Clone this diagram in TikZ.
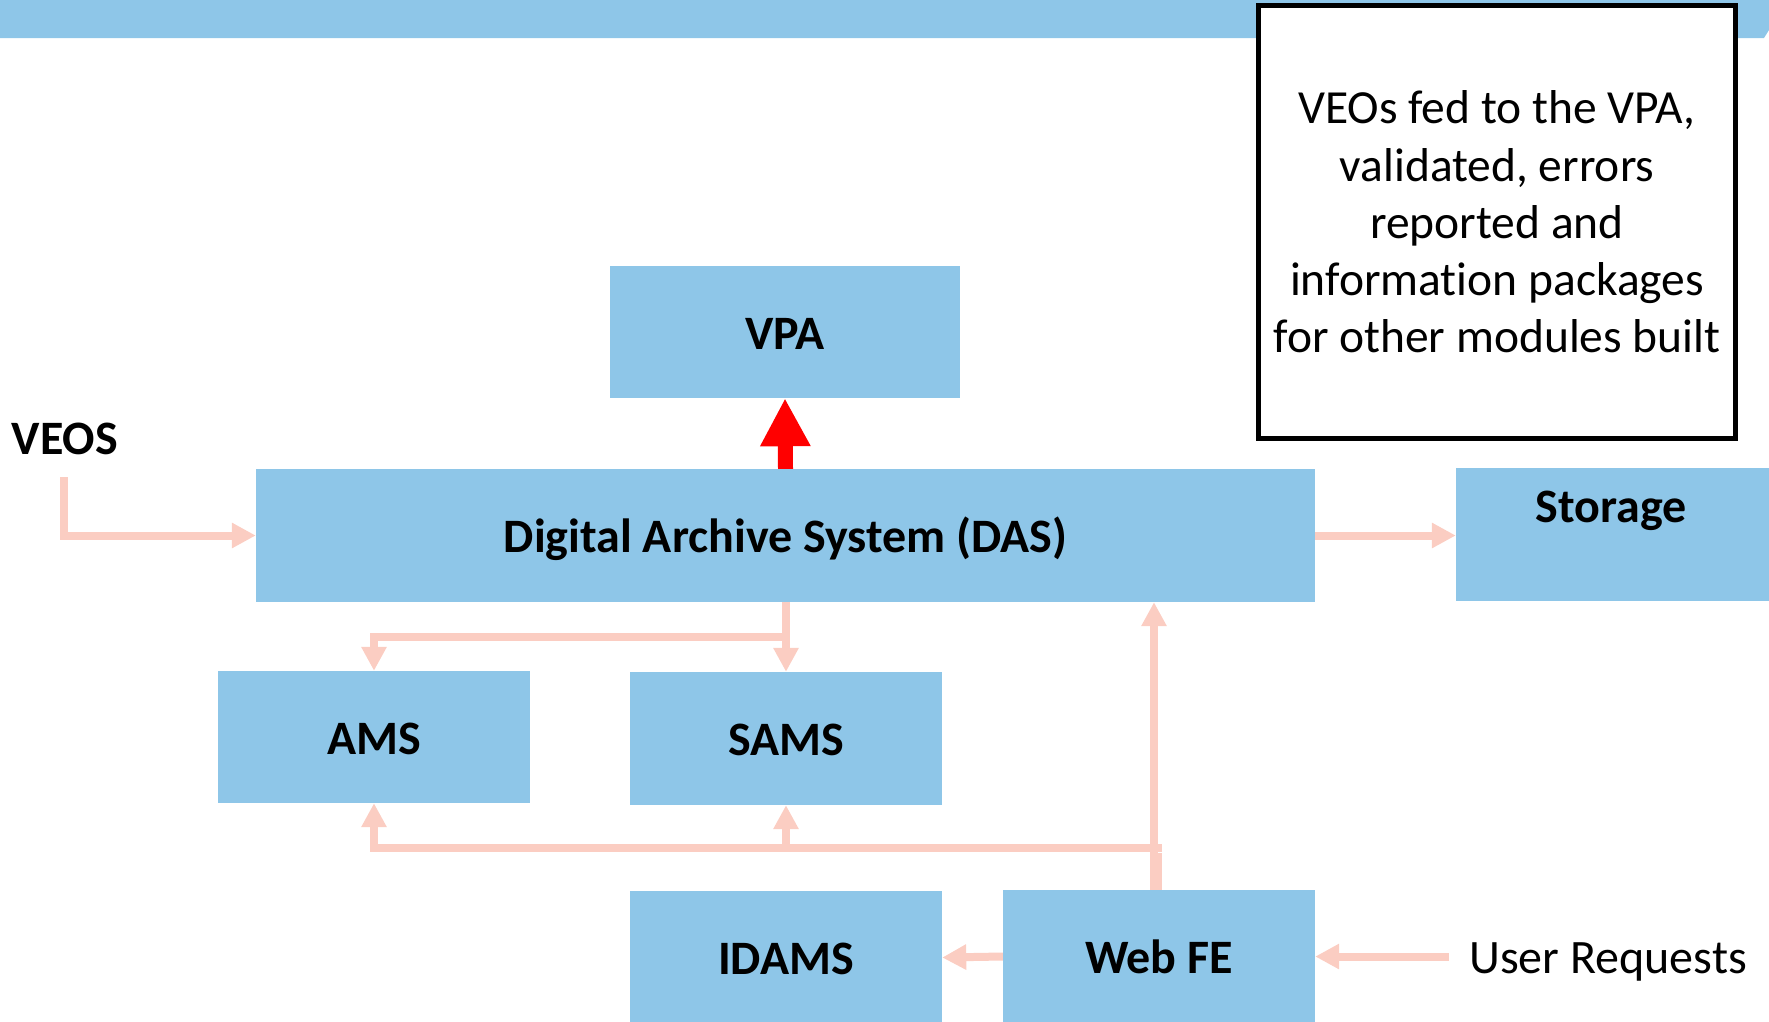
\documentclass[tikz,border=0pt]{standalone}
\usepackage{fontspec}
\setmainfont{Carlito}[RawFeature={-liga;-clig;-calt;-dlig}]
\usetikzlibrary{arrows.meta}
\definecolor{boxblue}{RGB}{142,198,232}
\definecolor{salmon}{RGB}{251,205,194}
\begin{document}
\begin{tikzpicture}[x=1pt,y=-1pt,
  box/.style={fill=boxblue, draw=none, inner sep=0pt, minimum width=312pt, minimum height=133pt,
    font=\fontsize{48}{58}\selectfont\bfseries, text height=34.5pt, text depth=0pt},
  conn/.style={draw=salmon, line width=8pt, -{Triangle[length=24pt,width=24pt]}},
  redarrow/.style={draw=red, line width=15pt, -{Triangle[length=48pt,width=47pt]}},
  lbl/.style={inner sep=0pt, font=\fontsize{48}{58}\selectfont}
]
\useasboundingbox (0,0) rectangle (1769,1021);
% banner
\fill[boxblue] (0,0) -- (1769,0) -- (1769,30) -- (1764,38) -- (0,38) -- cycle;
% note
\node[draw=black, line width=5pt, fill=white, minimum width=477pt, minimum height=433pt,
  inner sep=0pt, align=center, font=\fontsize{47.5}{57.3}\selectfont] (note) at (1497,222)
  {VEOs fed to the VPA,\\validated, errors\\reported and\\information packages\\for other modules built};
% boxes
\node[box, minimum width=350pt, minimum height=132pt] (vpa) at (785,332) {VPA};
\node[box, minimum width=1059pt] (das) at (785.5,535.5) {Digital Archive System (DAS)};
\node[box, minimum width=313pt] (st) at (1612.5,534.5) {};
\node[lbl, font=\fontsize{48}{58}\selectfont\bfseries, anchor=base] (stl) at (1611,522) {Storage};
\node[box, minimum height=132pt] (ams) at (374,737) {AMS};
\node[box] (sams) at (786,738.5) {SAMS};
\node[box] (idams) at (786,957.5) {IDAMS};
\node[box] (webfe) at (1159,956.5) {Web FE};
% labels
\node[lbl, font=\fontsize{48}{58}\selectfont\bfseries, anchor=base west] (veos) at (11.5,454) {VEOS};
\node[lbl, anchor=base west] (ur) at (1469,973) {User Requests};
% coordinates
\coordinate (veosstart) at (64,477);
\coordinate (urstart) at (1449,956.5);
\coordinate (j1) at (786,637);
\coordinate (jr) at (1156,848);
\coordinate (js) at (786,848);
\coordinate (wl) at (1154,0);
% connectors
\draw[conn] (veosstart) |- (das.west);
\draw[redarrow] (das.north) -- (vpa.south);
\draw[conn] (das.east) -- (das.east -| st.west);
\draw[conn] (das.south -| j1) -- (sams.north);
\draw[conn] (j1) -| (ams.north);
\draw[conn] (webfe.north -| wl) -- (das.south -| wl);
\draw[draw=salmon, line width=12pt] (webfe.north -| jr) -- ([yshift=-5pt]jr);
\draw[conn] ([xshift=6pt]jr) -| (ams.south);
\draw[conn] (js) -- (sams.south);
\draw[conn] (webfe.west) -- (idams.east);
\draw[conn] (urstart) -- (webfe.east);
\end{tikzpicture}
\end{document}
